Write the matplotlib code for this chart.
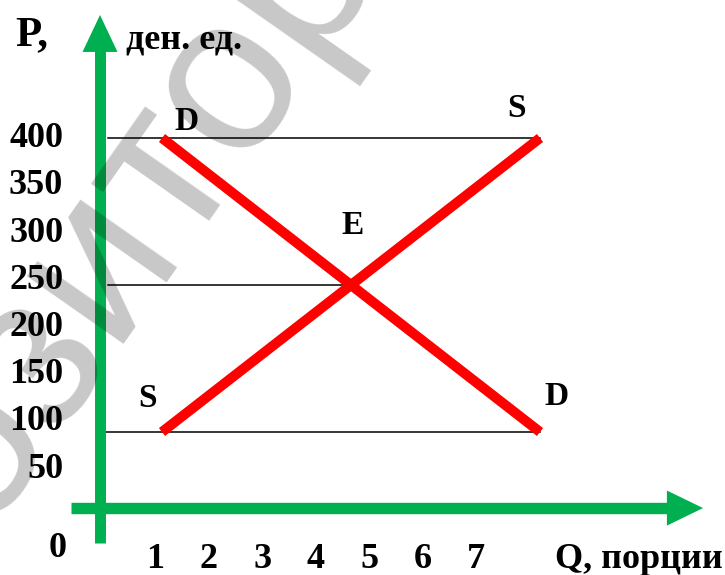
import matplotlib.pyplot as plt

# Data: quantity range and price for demand / supply
q = [1, 8]
demand = [400, 100]
supply = [100, 400]
q_eq, p_eq = 4.5, 250

price_ticks = [400, 350, 300, 250, 200, 150, 100, 50]
qty_ticks = [1, 2, 3, 4, 5, 6, 7]

green = "#00B050"
red = "#FF0000"
serif = "Liberation Serif"

fig = plt.figure(figsize=(7.25, 5.75), dpi=100)
ax = fig.add_axes([0, 0, 1, 1])
ax.set_xlim(-2.0, 11.426)
ax.set_ylim(-45.9, 540.8)
ax.axis("off")

# green axes with arrow heads
ax.plot([-0.148, -0.148], [-13.3, 490], color=green, lw=7.9, solid_capstyle="butt", zorder=3)
ax.fill([-0.148 - 0.324, -0.148 + 0.324, -0.148], [487.8, 487.8, 525.5], color=green, lw=0, zorder=3)
ax.plot([-0.685, 10.37], [22.4, 22.4], color=green, lw=8.2, solid_capstyle="butt", zorder=3)
ax.fill([10.35, 10.35, 11.02], [22.4 - 17.9, 22.4 + 17.9, 22.4], color=green, lw=0, zorder=3)

# guide lines
ax.plot([0, q[1]], [400, 400], color="black", lw=1.1, zorder=2)
ax.plot([0, q_eq], [p_eq, p_eq], color="black", lw=1.1, zorder=2)
ax.plot([-0.17, q[1]], [100, 100], color="black", lw=1.1, zorder=2)

# demand and supply
ax.plot(q, demand, color=red, lw=7.2, solid_capstyle="butt", zorder=4)
ax.plot(q, supply, color=red, lw=7.2, solid_capstyle="butt", zorder=4)

lab = dict(fontfamily=serif, fontweight="bold", fontsize=24, ha="center", va="center", zorder=5)
ax.text(q[0] + 0.46, demand[0] + 17, "D", **lab)
ax.text(q[1] + 0.30, demand[1] + 36, "D", **lab)
ax.text(q[0] - 0.26, supply[0] + 34, "S", **lab)
ax.text(q[1] - 0.44, supply[1] + 30, "S", **lab)
ax.text(q_eq + 0.02, p_eq + 61, "E", **lab)

tick = dict(fontfamily=serif, fontweight="bold", fontsize=26, va="center", zorder=5)
for p in price_ticks:
    ax.text(-0.83, 14 + 0.963 * p, str(p), ha="right", **tick)
ax.text(-0.93, -18.4, "0", ha="center", **tick)
for n in qty_ticks:
    ax.text(0.99 * n - 0.11, -30, str(n), ha="center", **tick)

ax.text(8.28, -30, "Q, порции", ha="left", **tick)
ax.text(-1.72, 505, "P,", ha="left", fontfamily=serif, fontweight="bold",
        fontsize=31, va="center", zorder=5)
ax.text(0.33, 500, "ден. ед.", ha="left", fontfamily=serif, fontweight="bold",
        fontsize=26, va="center", zorder=5)

# watermark
fig.text(-0.316, -0.440, "репозиторий", fontfamily="Liberation Sans",
         fontsize=160, rotation=55, rotation_mode="anchor", ha="left", va="baseline",
         color="black", alpha=0.22, zorder=10)

fig.savefig("out.png", dpi=100)
